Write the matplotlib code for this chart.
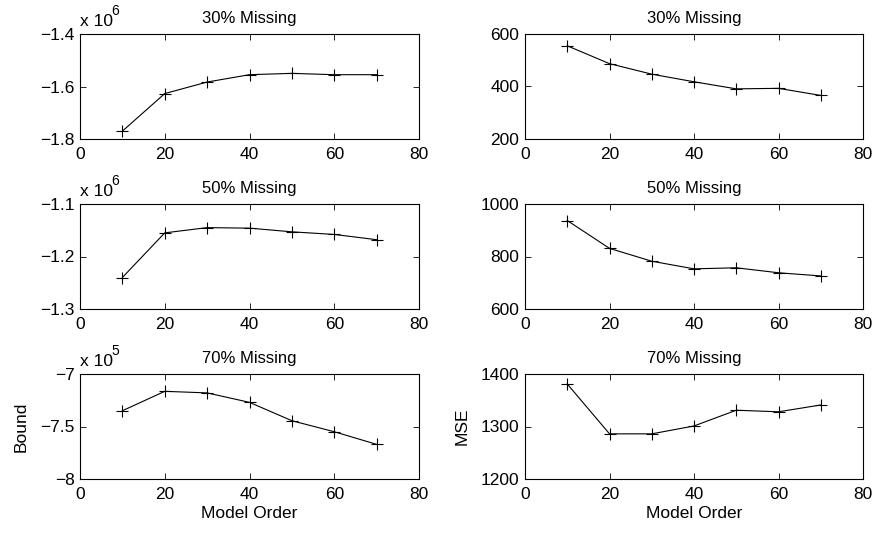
import matplotlib.pyplot as plt
from matplotlib.ticker import FuncFormatter

plt.rcParams['font.family'] = ['Liberation Sans', 'DejaVu Sans']
plt.rcParams['font.size'] = 12.5

order = [10, 20, 30, 40, 50, 60, 70]
titles = ["30% Missing", "50% Missing", "70% Missing"]

bound_30 = [-1.770e6, -1.627e6, -1.583e6, -1.555e6, -1.550e6, -1.555e6, -1.555e6]
bound_50 = [-1.240e6, -1.155e6, -1.145e6, -1.146e6, -1.153e6, -1.158e6, -1.168e6]
bound_70 = [-7.35e5, -7.165e5, -7.18e5, -7.27e5, -7.445e5, -7.55e5, -7.67e5]

mse_30 = [555, 487, 447, 418, 391, 393, 366]
mse_50 = [937, 831, 782, 753, 757, 738, 726]
mse_70 = [1381, 1286, 1286, 1301, 1331, 1328, 1341]

bounds = [bound_30, bound_50, bound_70]
mses = [mse_30, mse_50, mse_70]

bound_lims = [(-1.8e6, -1.4e6), (-1.3e6, -1.1e6), (-8e5, -7e5)]
bound_ticks = [[-1.8e6, -1.6e6, -1.4e6], [-1.3e6, -1.2e6, -1.1e6], [-8e5, -7.5e5, -7e5]]
bound_exp = [6, 6, 5]
mse_lims = [(200, 600), (600, 1000), (1200, 1400)]
mse_ticks = [[200, 400, 600], [600, 800, 1000], [1200, 1300, 1400]]

fig = plt.figure(figsize=(8.77, 5.36), dpi=100)

W, H = 877, 536
rows_px = [(34, 139), (204, 309), (374, 479)]
cols_px = [(80, 419), (525, 863)]


def style(ax):
    ax.set_xlim(0, 80)
    ax.set_xticks([0, 20, 40, 60, 80])
    ax.tick_params(direction='in', top=True, right=True, length=4, width=0.6)
    ax.tick_params(axis='x', pad=6)
    ax.tick_params(axis='y', pad=4)
    for s in ax.spines.values():
        s.set_linewidth(0.8)


def fmt(v, p, s=1):
    return f"{v / s:g}".replace("-", "\u2212")


for r in range(3):
    y0, y1 = rows_px[r]
    # left column: variational bound
    x0, x1 = cols_px[0]
    ax = fig.add_axes([x0 / W, 1 - y1 / H, (x1 - x0) / W, (y1 - y0) / H])
    ax.plot(order, bounds[r], color='black', lw=0.8, marker='+', ms=9, mew=0.8)
    style(ax)
    ax.set_ylim(*bound_lims[r])
    ax.set_yticks(bound_ticks[r])
    scale = 10 ** bound_exp[r]
    ax.yaxis.set_major_formatter(FuncFormatter(lambda v, p, s=scale: fmt(v, p, s)))
    # exponent label above the y axis
    ax.annotate("x 10", xy=(0, 1), xycoords='axes fraction', xytext=(0, 6),
                textcoords='offset points', ha='left', va='baseline')
    ax.annotate(str(bound_exp[r]), xy=(0, 1), xycoords='axes fraction', xytext=(22.5, 14),
                textcoords='offset points', ha='left', va='baseline', fontsize=10)
    ax.set_title(titles[r], pad=8, fontsize=12)
    if r == 2:
        ax.set_xlabel("Model Order", labelpad=3)
        ax.set_ylabel("Bound", labelpad=8)

    # right column: reconstruction error
    x0, x1 = cols_px[1]
    ax = fig.add_axes([x0 / W, 1 - y1 / H, (x1 - x0) / W, (y1 - y0) / H])
    ax.plot(order, mses[r], color='black', lw=0.8, marker='+', ms=9, mew=0.8)
    style(ax)
    ax.set_ylim(*mse_lims[r])
    ax.set_yticks(mse_ticks[r])
    ax.yaxis.set_major_formatter(FuncFormatter(fmt))
    ax.set_title(titles[r], pad=8, fontsize=12)
    if r == 2:
        ax.set_xlabel("Model Order", labelpad=3)
        ax.set_ylabel("MSE", labelpad=8)

fig.savefig("out.png", dpi=100)
